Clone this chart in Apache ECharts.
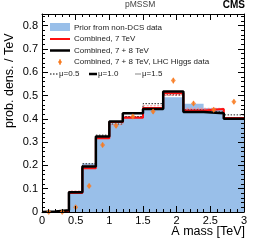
<!DOCTYPE html>
<html>
<head>
<meta charset="utf-8">
<script src="https://cdn.jsdelivr.net/npm/echarts@6/dist/echarts.min.js"></script>
<style>
html,body{margin:0;padding:0;background:#fff;}
#chart{width:258px;height:247px;}
</style>
</head>
<body>
<div id="chart"></div>
<script>
// Bin edges (TeV) — variable width bins
const binEdges = [0, 0.2, 0.4, 0.6, 0.8, 1.0, 1.2, 1.5, 1.8, 2.1, 2.4, 2.7, 3.0];
// Prior from non-DCS data
const priorValues = [0, 0.003, 0.088, 0.208, 0.325, 0.38, 0.41, 0.446, 0.493, 0.465, 0.446, 0.40];
// Combined, 7 TeV
const comb7Values = [0, 0.004, 0.082, 0.188, 0.317, 0.386, 0.405, 0.447, 0.51, 0.436, 0.442, 0.404];
// Combined, 7 TeV, mu=0.5 variant
const comb7Mu05Values = [0, 0.004, 0.09, 0.2, 0.32, 0.375, 0.41, 0.456, 0.5, 0.445, 0.445, 0.405];
// Combined, 7 + 8 TeV
const comb78Values = [0.002, 0.008, 0.085, 0.195, 0.324, 0.388, 0.424, 0.442, 0.517, 0.429, 0.424, 0.40];
// Combined, 7 + 8 TeV, mu=0.5 variant
const comb78Mu05Values = [0.002, 0.008, 0.087, 0.207, 0.33, 0.378, 0.41, 0.465, 0.503, 0.439, 0.43, 0.417];
// Combined, 7 + 8 TeV, LHC Higgs data (points at bin centres)
const higgsX = [0.1, 0.3, 0.5, 0.7, 0.9, 1.1, 1.35, 1.65, 1.95, 2.25, 2.55, 2.85];
const higgsValues = [0, 0, 0.02, 0.112, 0.288, 0.37, 0.41, 0.431, 0.564, 0.466, 0.439, 0.473];
const higgsErr = [0.005, 0.005, 0.007, 0.01, 0.01, 0.01, 0.01, 0.01, 0.012, 0.01, 0.01, 0.01];
// Axis ticks
const xTicks = [0, 0.5, 1, 1.5, 2, 2.5, 3];
const yTicks = [0, 0.1, 0.2, 0.3, 0.4, 0.5, 0.6, 0.7, 0.8];

const FONT = 'Liberation Sans, Arial, Helvetica, sans-serif';
const BLUE = '#99bfe9';
const RED = '#ff1010';
const ORANGE = '#f87b20';

function stepData(vals) {
  const d = [[binEdges[0], 0]];
  for (let i = 0; i < vals.length; i++) d.push([binEdges[i], vals[i]]);
  d.push([binEdges[binEdges.length - 1], vals[vals.length - 1]]);
  return d;
}

const chart = echarts.init(document.getElementById('chart'), null, {renderer: 'canvas'});

const axisCommon = {
  type: 'value',
  axisLine: {show: true, onZero: false, lineStyle: {color: '#000', width: 1}},
  axisTick: {show: true, inside: true, length: 6, lineStyle: {color: '#000', width: 1}},
  minorTick: {show: true, splitNumber: 5, length: 3, lineStyle: {color: '#000', width: 1}},
  splitLine: {show: false},
  z: 10
};

const option = {
  animation: false,
  backgroundColor: '#fff',
  grid: {left: 42, right: 14, top: 14, bottom: 35, containLabel: false},
  xAxis: [
    Object.assign({}, axisCommon, {
      position: 'bottom', min: 0, max: 3, interval: 0.5,
      axisLabel: {show: true, margin: 3, fontSize: 11, fontFamily: FONT, color: '#000',
        formatter: v => xTicks.indexOf(v) >= 0 ? String(v) : ''}
    }),
    Object.assign({}, axisCommon, {
      position: 'top', min: 0, max: 3, interval: 0.5,
      axisLabel: {show: false}
    })
  ],
  yAxis: [
    Object.assign({}, axisCommon, {
      position: 'left', min: 0, max: 0.85, interval: 0.1,
      axisLabel: {show: true, margin: 4, fontSize: 11, fontFamily: FONT, color: '#000', showMaxLabel: false,
        formatter: v => { const r = Math.round(v * 10) / 10; return yTicks.indexOf(r) >= 0 && Math.abs(r - v) < 1e-6 ? String(r) : ''; }}
    }),
    Object.assign({}, axisCommon, {
      position: 'right', min: 0, max: 0.85, interval: 0.1,
      axisLabel: {show: false}
    })
  ],
  graphic: [
    {type: 'text', left: 125, top: 0, style: {text: 'pMSSM', font: '8.5px ' + FONT, fill: '#444'}},
    {type: 'text', right: 13, top: 0, style: {text: 'CMS', font: 'bold 10px ' + FONT, fill: '#000'}},
    {type: 'text', x: 3, y: 128, rotation: Math.PI / 2,
      style: {text: 'prob. dens. / TeV', font: '12.5px ' + FONT, fill: '#000', textAlign: 'left', textVerticalAlign: 'top'}},
    {type: 'text', x: 245, y: 225, style: {text: 'A mass [TeV]', font: '12.5px ' + FONT, fill: '#000', textAlign: 'right', textVerticalAlign: 'top'}},
    // Legend
    {type: 'rect', shape: {x: 50, y: 23, width: 20, height: 8}, style: {fill: BLUE}, z: 20},
    {type: 'text', x: 74, y: 27.5, style: {text: 'Prior from non-DCS data', font: '8px ' + FONT, fill: '#222', textVerticalAlign: 'middle'}, z: 20},
    {type: 'line', shape: {x1: 50, y1: 39, x2: 70, y2: 39}, style: {stroke: RED, lineWidth: 2}, z: 20},
    {type: 'text', x: 74, y: 39, style: {text: 'Combined, 7 TeV', font: '8px ' + FONT, fill: '#222', textVerticalAlign: 'middle'}, z: 20},
    {type: 'line', shape: {x1: 50, y1: 50.5, x2: 70, y2: 50.5}, style: {stroke: '#000', lineWidth: 2.5}, z: 20},
    {type: 'text', x: 74, y: 50.5, style: {text: 'Combined, 7 + 8 TeV', font: '8px ' + FONT, fill: '#222', textVerticalAlign: 'middle'}, z: 20},
    {type: 'line', shape: {x1: 60, y1: 59, x2: 60, y2: 65}, style: {stroke: ORANGE, lineWidth: 1}, z: 20},
    {type: 'polygon', shape: {points: [[60, 59.5], [62, 62], [60, 64.5], [58, 62]]}, style: {fill: ORANGE}, z: 20},
    {type: 'text', x: 74, y: 62, style: {text: 'Combined, 7 + 8 TeV, LHC Higgs data', font: '8px ' + FONT, fill: '#222', textVerticalAlign: 'middle'}, z: 20},
    {type: 'line', shape: {x1: 50, y1: 74, x2: 58, y2: 74}, style: {stroke: '#000', lineWidth: 1, lineDash: [1.5, 1.5]}, z: 20},
    {type: 'text', x: 59, y: 74, style: {text: 'μ=0.5', font: '8px ' + FONT, fill: '#222', textVerticalAlign: 'middle'}, z: 20},
    {type: 'line', shape: {x1: 89, y1: 74, x2: 97, y2: 74}, style: {stroke: '#000', lineWidth: 2.5}, z: 20},
    {type: 'text', x: 98, y: 74, style: {text: 'μ=1.0', font: '8px ' + FONT, fill: '#222', textVerticalAlign: 'middle'}, z: 20},
    {type: 'line', shape: {x1: 135, y1: 74, x2: 141, y2: 74}, style: {stroke: '#555', lineWidth: 0.7}, z: 20},
    {type: 'text', x: 142, y: 74, style: {text: 'μ=1.5', font: '8px ' + FONT, fill: '#222', textVerticalAlign: 'middle'}, z: 20}
  ],
  series: [
    {
      name: 'Prior from non-DCS data', type: 'line', step: 'end', data: stepData(priorValues),
      symbol: 'none', lineStyle: {width: 0, color: BLUE}, areaStyle: {color: BLUE, opacity: 1, origin: 'start'}, z: 1
    },
    {
      name: 'Combined, 7 TeV mu=0.5', type: 'line', step: 'end', data: stepData(comb7Mu05Values),
      symbol: 'none', lineStyle: {width: 1, color: '#ff8a8a', type: [2, 1.5]}, z: 3
    },
    {
      name: 'Combined, 7 + 8 TeV mu=0.5', type: 'line', step: 'end', data: stepData(comb78Mu05Values),
      symbol: 'none', lineStyle: {width: 1, color: '#222', type: [1.5, 1.5]}, z: 3
    },
    {
      name: 'Combined, 7 TeV', type: 'line', step: 'end', data: stepData(comb7Values),
      symbol: 'none', lineStyle: {width: 2, color: RED}, z: 4
    },
    {
      name: 'Combined, 7 + 8 TeV', type: 'line', step: 'end', data: stepData(comb78Values),
      symbol: 'none', lineStyle: {width: 2.5, color: '#000'}, z: 5
    },
    {
      name: 'Higgs errors', type: 'custom', z: 6,
      data: higgsX.map((x, i) => [x, higgsValues[i], higgsErr[i]]),
      renderItem: function (params, api) {
        const x = api.value(0), y = api.value(1), e = api.value(2);
        const p1 = api.coord([x, y - e]);
        const p2 = api.coord([x, y + e]);
        return {type: 'line', shape: {x1: p1[0], y1: p1[1], x2: p2[0], y2: p2[1]}, style: {stroke: ORANGE, lineWidth: 1}};
      }
    },
    {
      name: 'Combined, 7 + 8 TeV, LHC Higgs data', type: 'scatter', z: 7,
      data: higgsX.map((x, i) => [x, higgsValues[i]]),
      symbol: 'diamond', symbolSize: [5, 6], itemStyle: {color: ORANGE}
    }
  ]
};
chart.setOption(option);
</script>
</body>
</html>
